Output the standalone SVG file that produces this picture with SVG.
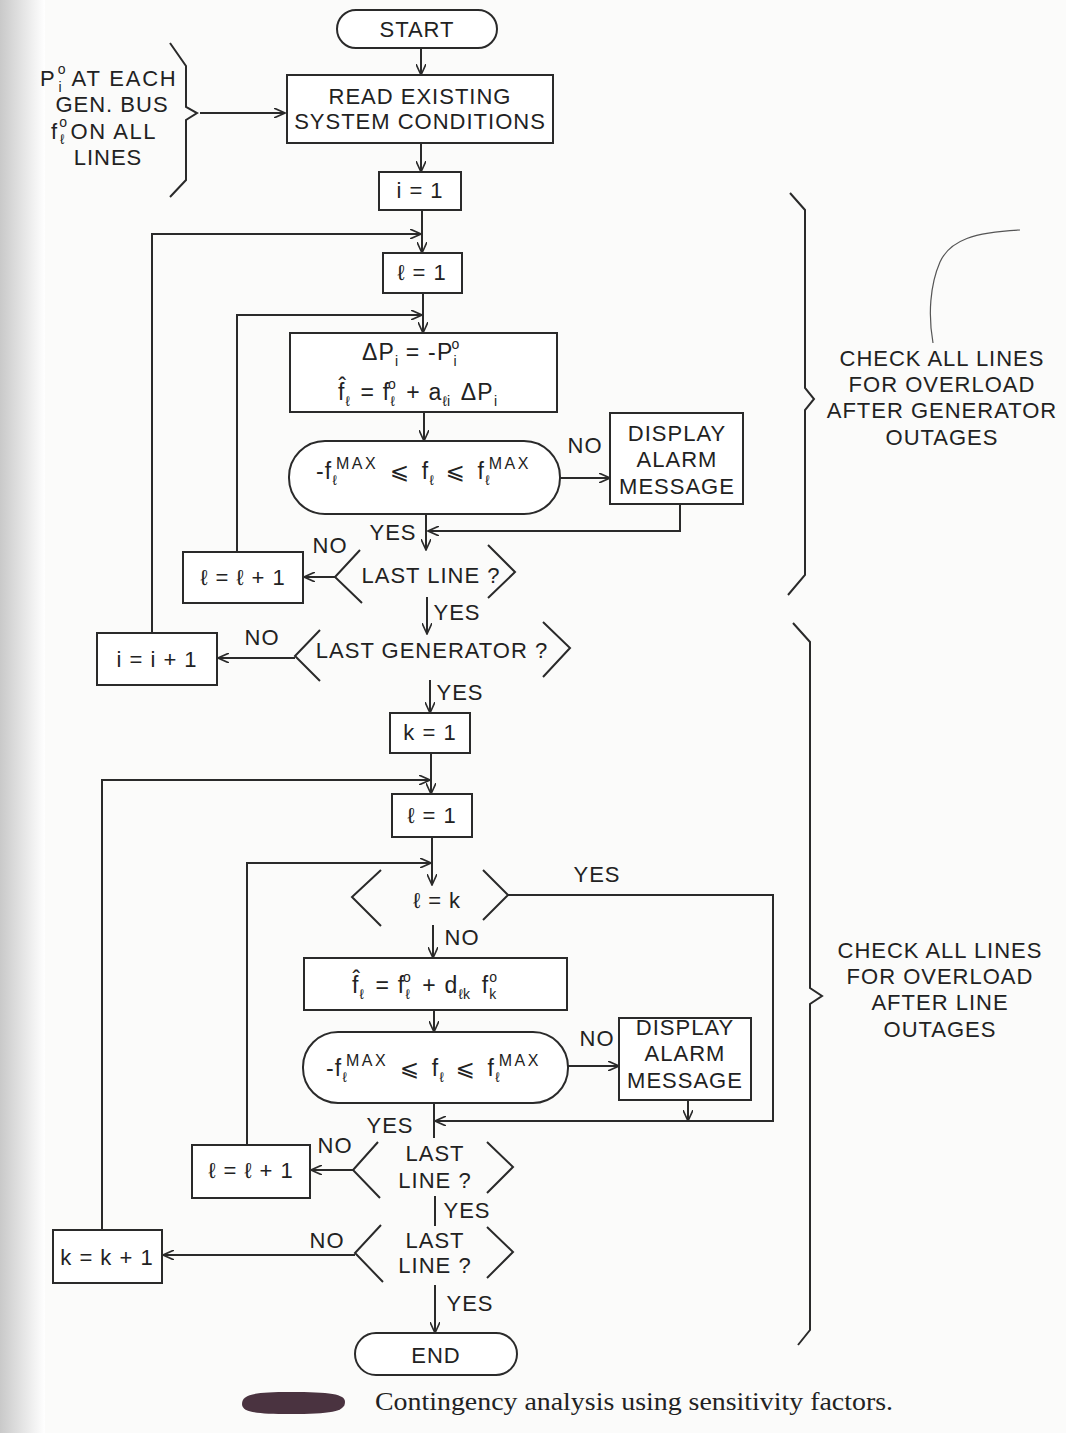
<svg xmlns="http://www.w3.org/2000/svg" width="1066" height="1433" viewBox="0 0 1066 1433">
<defs>
<marker id="arr" viewBox="0 0 12 10" refX="11" refY="5" markerWidth="12" markerHeight="10" markerUnits="userSpaceOnUse" orient="auto">
<path d="M0,0 L11,5 L0,10" fill="none" stroke="#2a2a2a" stroke-width="1.6"/>
</marker>
<linearGradient id="edge" x1="0" y1="0" x2="1" y2="0">
<stop offset="0" stop-color="#c9c9c9"/>
<stop offset="1" stop-color="#ffffff"/>
</linearGradient>
<style>
.s{fill:none;stroke:#2a2a2a;stroke-width:2}
.b{fill:#fff;stroke:#2a2a2a;stroke-width:2}
.t{font-family:"Liberation Sans",Arial,sans-serif;font-size:22px;fill:#222;text-anchor:middle;letter-spacing:1px}
.l{font-family:"Liberation Sans",Arial,sans-serif;font-size:22px;fill:#222;letter-spacing:1px}
.m{font-family:"Liberation Sans","DejaVu Sans",sans-serif;font-size:23px;fill:#222;letter-spacing:1.2px}
.sb{font-size:14px;letter-spacing:0}
.sp{font-size:16px;letter-spacing:2.5px}
.c{font-family:"Liberation Serif","Times New Roman",serif;font-size:25px;fill:#222}
</style>
</defs>
<rect width="1066" height="1433" fill="#fbfbfa"/>
<rect width="45" height="1433" fill="url(#edge)"/>

<g id="connectors">
<path class="s" d="M421,48 V75" marker-end="url(#arr)"/>
<path class="s" d="M200,113 H285" marker-end="url(#arr)"/>
<path class="s" d="M421,143 V172" marker-end="url(#arr)"/>
<path class="s" d="M422,210 V253" marker-end="url(#arr)"/>
<path class="s" d="M152,633 V234 H421" marker-end="url(#arr)"/>
<path class="s" d="M423,293 V333" marker-end="url(#arr)"/>
<path class="s" d="M237,552 V315 H422" marker-end="url(#arr)"/>
<path class="s" d="M424,412 V441" marker-end="url(#arr)"/>
<path class="s" d="M560,478 H610" marker-end="url(#arr)"/>
<path class="s" d="M680,504 V531 H428" marker-end="url(#arr)"/>
<path class="s" d="M426,514 V550" marker-end="url(#arr)"/>
<path class="s" d="M335,577 H304" marker-end="url(#arr)"/>
<path class="s" d="M427,597 V634" marker-end="url(#arr)"/>
<path class="s" d="M295,658 H218" marker-end="url(#arr)"/>
<path class="s" d="M430,680 V713" marker-end="url(#arr)"/>
<path class="s" d="M431,753 V794" marker-end="url(#arr)"/>
<path class="s" d="M102,1230 V780 H430" marker-end="url(#arr)"/>
<path class="s" d="M432,837 V885" marker-end="url(#arr)"/>
<path class="s" d="M247,1145 V863 H431" marker-end="url(#arr)"/>
<path class="s" d="M433,925 V958" marker-end="url(#arr)"/>
<path class="s" d="M508,895 H773 V1121 H435" marker-end="url(#arr)"/>
<path class="s" d="M434,1010 V1032" marker-end="url(#arr)"/>
<path class="s" d="M568,1066 H619" marker-end="url(#arr)"/>
<path class="s" d="M688,1100 V1121" marker-end="url(#arr)"/>
<path class="s" d="M434,1103 V1138"/>
<path class="s" d="M353,1170 H311" marker-end="url(#arr)"/>
<path class="s" d="M435,1196 V1226"/>
<path class="s" d="M355,1255 H163" marker-end="url(#arr)"/>
<path class="s" d="M435,1285 V1333" marker-end="url(#arr)"/>
</g>

<g id="start">
<rect class="b" x="337" y="10" width="160" height="38" rx="19"/>
<text class="t" x="417" y="37">START</text>
</g>

<g id="inputs">
<path class="s" d="M170,43 L186,66 V107 L197,113 L186,120 V180 L170,197"/>
<text class="l" x="40" y="86">P<tspan style="font-size:14px" dx="2" dy="-12">o</tspan><tspan style="font-size:14px" dx="-8" dy="18">i</tspan><tspan dx="9" dy="-6" style="letter-spacing:1.8px">AT EACH</tspan></text>
<text class="t" x="112" y="112">GEN. BUS</text>
<text class="l" x="51" y="139">f<tspan style="font-size:14px" dx="1" dy="-12">o</tspan><tspan style="font-size:14px" dx="-8" dy="17">ℓ</tspan><tspan dx="5" dy="-5" style="letter-spacing:1.6px">ON ALL</tspan></text>
<text class="t" x="108" y="165">LINES</text>
</g>

<g id="read">
<rect class="b" x="287" y="75" width="266" height="68"/>
<text class="t" x="420" y="104">READ EXISTING</text>
<text class="t" x="420" y="129">SYSTEM CONDITIONS</text>
</g>

<g id="i1">
<rect class="b" x="379" y="172" width="82" height="38"/>
<text class="t" x="420" y="198">i = 1</text>
</g>

<g id="l1a">
<rect class="b" x="383" y="253" width="79" height="40"/>
<text class="t" x="422" y="280">ℓ = 1</text>
</g>

<g id="gencalc">
<rect class="b" x="290" y="333" width="267" height="79"/>
<text class="m" x="362" y="360">ΔP<tspan class="sb" dy="6">i</tspan><tspan dy="-6"> = -P</tspan><tspan class="sb" dy="6">i</tspan><tspan class="sb" dx="-5" dy="-17">o</tspan></text>
<text class="m" x="338" y="400">f<tspan dx="-7" dy="-6">ˆ</tspan><tspan class="sb" dx="-2" dy="12">ℓ</tspan><tspan dx="3" dy="-6"> = f</tspan><tspan class="sb" dy="6">ℓ</tspan><tspan class="sb" dx="-7" dy="-17">o</tspan><tspan dx="3" dy="11"> + a</tspan><tspan class="sb" dy="6">ℓi</tspan><tspan dx="3" dy="-6"> ΔP</tspan><tspan class="sb" dy="6">i</tspan></text>
</g>

<g id="check1">
<rect class="b" x="289" y="441" width="271" height="73" rx="36"/>
<text class="m" x="316" y="479">-f<tspan class="sb" dy="6">ℓ</tspan><tspan class="sp" dx="-1" dy="-16">MAX</tspan><tspan dx="4" dy="10"> ⩽ </tspan><tspan dx="4">f</tspan><tspan class="sb" dy="6">ℓ</tspan><tspan dx="4" dy="-6"> ⩽ </tspan><tspan dx="4">f</tspan><tspan class="sb" dy="6">ℓ</tspan><tspan class="sp" dx="-1" dy="-16">MAX</tspan></text>
</g>
<text class="t" x="585" y="453">NO</text>

<g id="alarm1">
<rect class="b" x="610" y="413" width="133" height="91"/>
<text class="t" x="677" y="441">DISPLAY</text>
<text class="t" x="677" y="467">ALARM</text>
<text class="t" x="677" y="494">MESSAGE</text>
</g>
<text class="t" x="393" y="540">YES</text>

<g id="lastline1">
<path class="s" d="M360,550 L335,577 L362,603"/>
<path class="s" d="M488,545 L515,572 L488,598"/>
<text class="t" x="431" y="583">LAST LINE ?</text>
</g>
<text class="t" x="330" y="553">NO</text>

<g id="linc1">
<rect class="b" x="183" y="552" width="120" height="51"/>
<text class="t" x="243" y="585">ℓ = ℓ + 1</text>
</g>
<text class="t" x="457" y="620">YES</text>

<g id="lastgen">
<path class="s" d="M320,630 L295,656 L320,681"/>
<path class="s" d="M543,622 L570,648 L543,677"/>
<text class="t" x="432" y="658">LAST GENERATOR ?</text>
</g>
<text class="t" x="262" y="645">NO</text>

<g id="iinc">
<rect class="b" x="97" y="633" width="120" height="52"/>
<text class="t" x="157" y="667">i = i + 1</text>
</g>
<text class="t" x="460" y="700">YES</text>

<g id="k1">
<rect class="b" x="390" y="713" width="80" height="40"/>
<text class="t" x="430" y="740">k = 1</text>
</g>

<g id="l1b">
<rect class="b" x="392" y="794" width="80" height="43"/>
<text class="t" x="432" y="823">ℓ = 1</text>
</g>

<g id="lk">
<path class="s" d="M381,870 L352,897 L381,926"/>
<path class="s" d="M483,870 L508,895 L483,920"/>
<text class="t" x="437" y="908">ℓ = k</text>
</g>
<text class="t" x="597" y="882">YES</text>
<text class="t" x="462" y="945">NO</text>

<g id="linecalc">
<rect class="b" x="304" y="958" width="263" height="52"/>
<text class="m" x="352" y="993">f<tspan dx="-7" dy="-6">ˆ</tspan><tspan class="sb" dx="-2" dy="12">ℓ</tspan><tspan dx="4" dy="-6"> = f</tspan><tspan class="sb" dy="6">ℓ</tspan><tspan class="sb" dx="-7" dy="-17">o</tspan><tspan dx="4" dy="11"> + d</tspan><tspan class="sb" dy="6">ℓk</tspan><tspan dx="4" dy="-6"> f</tspan><tspan class="sb" dy="6">k</tspan><tspan class="sb" dx="-7" dy="-17">o</tspan></text>
</g>

<g id="check2">
<rect class="b" x="303" y="1032" width="265" height="71" rx="35"/>
<text class="m" x="326" y="1076">-f<tspan class="sb" dy="6">ℓ</tspan><tspan class="sp" dx="-1" dy="-16">MAX</tspan><tspan dx="4" dy="10"> ⩽ </tspan><tspan dx="4">f</tspan><tspan class="sb" dy="6">ℓ</tspan><tspan dx="4" dy="-6"> ⩽ </tspan><tspan dx="4">f</tspan><tspan class="sb" dy="6">ℓ</tspan><tspan class="sp" dx="-1" dy="-16">MAX</tspan></text>
</g>
<text class="t" x="597" y="1046">NO</text>

<g id="alarm2">
<rect class="b" x="619" y="1018" width="132" height="82"/>
<text class="t" x="685" y="1035">DISPLAY</text>
<text class="t" x="685" y="1061">ALARM</text>
<text class="t" x="685" y="1088">MESSAGE</text>
</g>
<text class="t" x="390" y="1133">YES</text>

<g id="lastline2">
<path class="s" d="M378,1142 L353,1170 L380,1198"/>
<path class="s" d="M487,1142 L513,1167 L487,1193"/>
<text class="t" x="435" y="1161">LAST</text>
<text class="t" x="435" y="1188">LINE ?</text>
</g>
<text class="t" x="335" y="1153">NO</text>

<g id="linc2">
<rect class="b" x="192" y="1145" width="118" height="53"/>
<text class="t" x="251" y="1178">ℓ = ℓ + 1</text>
</g>
<text class="t" x="467" y="1218">YES</text>

<g id="lastline3">
<path class="s" d="M381,1225 L355,1253 L383,1282"/>
<path class="s" d="M487,1227 L513,1252 L487,1278"/>
<text class="t" x="435" y="1248">LAST</text>
<text class="t" x="435" y="1273">LINE ?</text>
</g>
<text class="t" x="327" y="1248">NO</text>

<g id="kinc">
<rect class="b" x="53" y="1230" width="109" height="53"/>
<text class="t" x="107" y="1265">k = k + 1</text>
</g>
<text class="t" x="470" y="1311">YES</text>

<g id="end">
<rect class="b" x="355" y="1333" width="162" height="42" rx="21"/>
<text class="t" x="436" y="1363">END</text>
</g>

<g id="brace1">
<path class="s" d="M790,193 L805,210 V388 L814,399 L805,410 V575 L788,595"/>
<text class="t" x="942" y="366">CHECK ALL LINES</text>
<text class="t" x="942" y="392">FOR OVERLOAD</text>
<text class="t" x="942" y="418">AFTER GENERATOR</text>
<text class="t" x="942" y="445">OUTAGES</text>
</g>

<g id="brace2">
<path class="s" d="M793,623 L810,642 V988 L822,996 L810,1004 V1330 L798,1345"/>
<text class="t" x="940" y="958">CHECK ALL LINES</text>
<text class="t" x="940" y="984">FOR OVERLOAD</text>
<text class="t" x="940" y="1010">AFTER LINE</text>
<text class="t" x="940" y="1037">OUTAGES</text>
</g>

<path d="M1020,230 C975,232 950,240 940,262 C930,285 928,315 933,343" fill="none" stroke="#555" stroke-width="1.2"/>

<g id="caption">
<path d="M242,1404 C242,1394 255,1392 290,1392 C330,1392 345,1394 345,1402 C345,1412 330,1414 290,1414 C255,1414 242,1412 242,1404 Z" fill="#4a3340"/>
<text class="c" x="375" y="1410" textLength="518" lengthAdjust="spacingAndGlyphs">Contingency analysis using sensitivity factors.</text>
</g>
</svg>
